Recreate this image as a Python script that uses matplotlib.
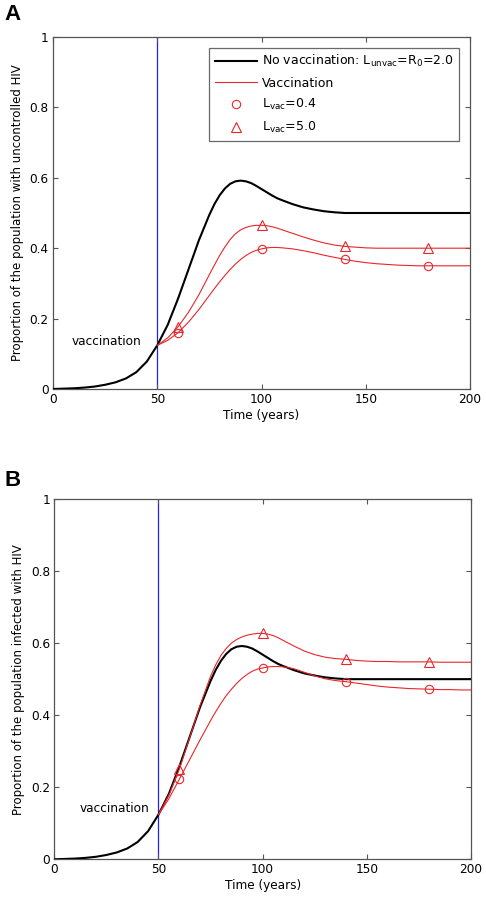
import numpy as np
import matplotlib
matplotlib.use("Agg")
import matplotlib.pyplot as plt
from matplotlib.lines import Line2D

# ---------------- data ----------------
t_all = ([0, 5, 10, 15, 20, 25, 30, 35, 40, 45, 50, 55, 60, 65, 70, 75,
          77.5, 80, 82.5, 85, 87.5, 90, 92.5, 95, 97.5, 100, 102.5, 105, 107.5, 110]
         + list(range(115, 201, 5)))
t_vac = ([50, 55, 60, 65, 70, 75,
          77.5, 80, 82.5, 85, 87.5, 90, 92.5, 95, 97.5, 100, 102.5, 105, 107.5, 110]
         + list(range(115, 201, 5)))

no_vacc = [0.000, 0.001, 0.002, 0.004, 0.007, 0.012, 0.019, 0.030, 0.048, 0.078,
           0.124, 0.182, 0.257, 0.340, 0.423, 0.495,
           0.526, 0.551, 0.570, 0.583, 0.590, 0.592, 0.590, 0.585, 0.577, 0.568,
           0.559, 0.550, 0.542, 0.536,
           0.525, 0.516, 0.510, 0.505, 0.502, 0.500, 0.500, 0.500, 0.500, 0.500,
           0.500, 0.500, 0.500, 0.500, 0.500, 0.500, 0.500, 0.500]

a_lvac04 = [0.124, 0.138, 0.160, 0.190, 0.226, 0.266,
            0.286, 0.305, 0.323, 0.340, 0.355, 0.368, 0.379, 0.388, 0.394, 0.398,
            0.401, 0.402, 0.402, 0.401,
            0.398, 0.393, 0.387, 0.380, 0.374, 0.368, 0.363, 0.359, 0.356, 0.354,
            0.352, 0.351, 0.350, 0.350, 0.350, 0.350, 0.350, 0.350]
a_lvac50 = [0.124, 0.145, 0.177, 0.218, 0.268, 0.325,
            0.353, 0.380, 0.404, 0.425, 0.441, 0.452, 0.459, 0.463, 0.465, 0.465,
            0.464, 0.461, 0.457, 0.452,
            0.442, 0.432, 0.423, 0.415, 0.409, 0.405, 0.403, 0.401, 0.400, 0.400,
            0.400, 0.400, 0.400, 0.400, 0.400, 0.400, 0.400, 0.400]

b_lvac04 = [0.124, 0.168, 0.222, 0.277, 0.332, 0.385,
            0.410, 0.433, 0.454, 0.472, 0.488, 0.502, 0.513, 0.522, 0.528, 0.531,
            0.534, 0.535, 0.535, 0.534,
            0.529, 0.519, 0.509, 0.501, 0.496, 0.493, 0.489, 0.485, 0.481, 0.478,
            0.476, 0.474, 0.473, 0.472, 0.471, 0.471, 0.470, 0.470]
b_lvac50 = [0.124, 0.178, 0.250, 0.338, 0.428, 0.508,
            0.540, 0.566, 0.585, 0.600, 0.610, 0.617, 0.622, 0.625, 0.627, 0.627,
            0.625, 0.621, 0.615, 0.607,
            0.592, 0.578, 0.568, 0.561, 0.557, 0.555, 0.552, 0.550, 0.549, 0.549,
            0.548, 0.548, 0.548, 0.548, 0.547, 0.547, 0.547, 0.547]

marker_times = [60, 100, 140, 180]
vacc_time = 50
xticks = [0, 50, 100, 150, 200]
yticks = [0, 0.2, 0.4, 0.6, 0.8, 1.0]
ytick_labels = ["0", "0.2", "0.4", "0.6", "0.8", "1"]
ylabels = ["Proportion of the population with uncontrolled HIV",
           "Proportion of the population infected with HIV"]
panel_letters = ["A", "B"]
xlabel = "Time (years)"
legend_labels = [r"No vaccination: L$_{\rm unvac}$=R$_0$=2.0", "Vaccination",
                 r"L$_{\rm vac}$=0.4", r"L$_{\rm vac}$=5.0"]

# ---------------- figure ----------------
plt.rcParams['font.family'] = ['DejaVu Sans']
plt.rcParams['mathtext.default'] = 'regular'
fig = plt.figure(figsize=(4.86, 9.01), dpi=100)

W, H = 486, 901
boxes = [(53, 37, 470, 389), (54.3, 499, 471, 859.3)]
red = '#e8262b'
marks = [t_vac.index(m) for m in marker_times]
series = [(a_lvac04, a_lvac50), (b_lvac04, b_lvac50)]
text_pos = [(42.5, 0.134), (45.5, 0.14)]
letter_y = [15, 480]

for i, (x0, y0, x1, y1) in enumerate(boxes):
    ax = fig.add_axes([x0 / W, 1 - y1 / H, (x1 - x0) / W, (y1 - y0) / H])
    ax.axvline(vacc_time, color='#2222ee', lw=0.9, zorder=1)
    ax.plot(t_all, no_vacc, color='black', lw=1.5, zorder=3,
            solid_joinstyle='round')
    s04, s50 = series[i]
    ax.plot(t_vac, s04, color=red, lw=0.8, marker='o', markevery=marks,
            ms=6, mfc='none', mec=red, mew=0.8, zorder=4)
    ax.plot(t_vac, s50, color=red, lw=0.8, marker='^', markevery=marks,
            ms=7, mfc='none', mec=red, mew=0.8, zorder=4)
    ax.set_xlim(0, 200)
    ax.set_ylim(0, 1)
    ax.set_xticks(xticks)
    ax.set_yticks(yticks)
    ax.set_yticklabels(ytick_labels)
    ax.tick_params(direction='in', top=True, right=True, length=3.5, width=0.8,
                   labelsize=8.7, color='#555555', pad=3)
    for sp in ax.spines.values():
        sp.set_color('#555555')
        sp.set_linewidth(0.9)
    ax.set_xlabel(xlabel, fontsize=8.7, labelpad=2)
    ax.set_ylabel(ylabels[i], fontsize=8.5, labelpad=4)
    tx, ty = text_pos[i]
    ax.text(tx, ty, "vaccination", fontsize=8.7, ha='right', va='center')
    fig.text(4 / W, 1 - letter_y[i] / H, panel_letters[i],
             fontsize=16, fontweight='bold', ha='left', va='center',
             family='Liberation Sans')
    if i == 0:
        handles = [Line2D([], [], color='black', lw=1.5),
                   Line2D([], [], color=red, lw=0.8),
                   Line2D([], [], ls='none', marker='o', ms=6, mfc='none', mec=red, mew=0.8),
                   Line2D([], [], ls='none', marker='^', ms=7, mfc='none', mec=red, mew=0.8)]
        leg = ax.legend(handles, legend_labels, loc='upper right', fontsize=9,
                        frameon=True, fancybox=False, edgecolor='#444444',
                        borderaxespad=0.85, handlelength=3.4, labelspacing=0.6,
                        borderpad=0.45, handletextpad=0.4)
        leg.get_frame().set_linewidth(0.9)

fig.savefig("out.png", dpi=100)
